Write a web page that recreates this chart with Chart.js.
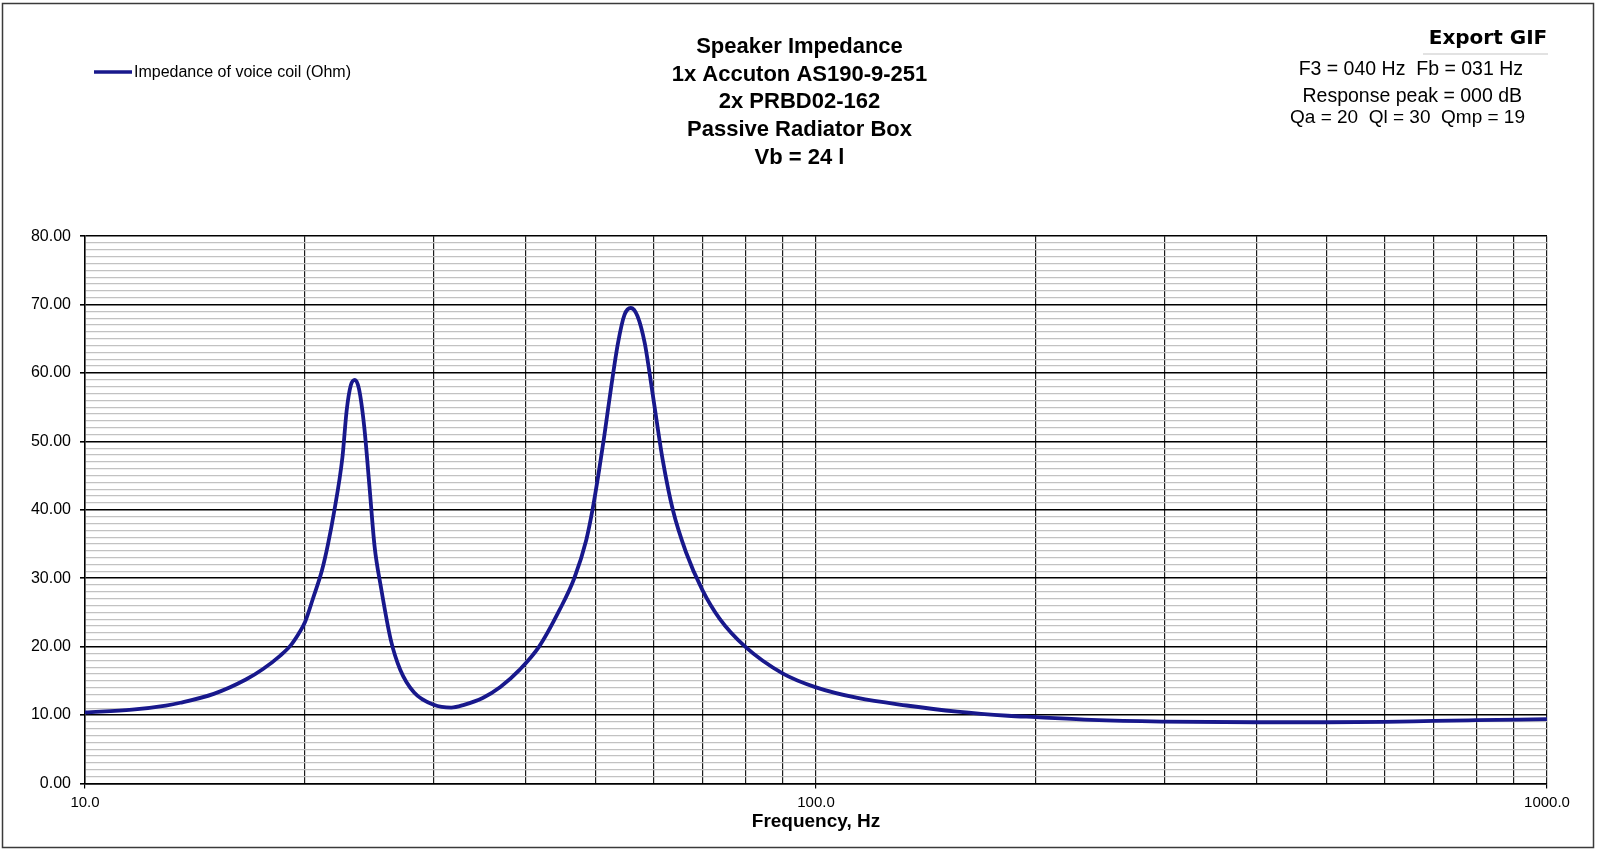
<!DOCTYPE html>
<html lang="en">

<head>
  <meta charset="UTF-8">
  <title>Speaker Impedance</title>
  <script src="https://cdn.jsdelivr.net/npm/chart.js"></script>
  <style>
    body {
      margin: 0;
      background: #ffffff;
    }

    .wrap {
      width: 1599px;
      height: 852px;
      position: relative;
    }
  </style>
</head>

<body>
  <div class="wrap">
    <canvas id="impChart"></canvas>
  </div>

  <script>
    // values
    const freqHz = [10, 11.6, 12.9, 13.5, 15.0, 16.6, 17.5, 18.5, 19.1, 19.6, 20, 20.5, 21.1, 21.5, 21.9, 22.5, 22.8,
      23.1, 23.4, 23.7, 24.1, 24.5, 24.9, 25.4, 26.2, 27, 28.2, 30, 31.7, 33, 35, 37, 39.3, 41.8, 44.6, 46.7, 48.5,
      49.5, 50.5, 51.3, 52.4, 53.6, 54.7, 55.8, 57, 58.3, 59.2, 60.4, 61.7, 63.7, 66.4, 69.9, 73.8, 80, 90, 100, 114,
      133, 156, 183, 200, 238, 297, 400, 500, 600, 700, 800, 1000];
    const impedanceOhm = [10.4, 10.8, 11.4, 11.8, 13.1, 15.2, 16.7, 18.7, 20.15, 21.9, 23.6, 27.0, 31.2, 35.0, 39.5,
      47.7, 54.5, 58.2, 59.0, 57.7, 52.1, 43.4, 34.6, 28.7, 21.0, 16.6, 13.3, 11.5, 11.1, 11.5, 12.5, 14.1, 16.6, 20.0,
      25.4, 30.0, 35.6, 40.2, 45.8, 50.6, 57.6, 64.4, 68.5, 69.5, 68.3, 64.4, 60.0, 53.7, 47.3, 40.0, 33.8, 28.3, 24.1,
      20.0, 16.1, 14.05, 12.5, 11.4, 10.5, 9.9, 9.7, 9.3, 9.05, 8.95, 8.95, 9.0, 9.15, 9.25, 9.4];

    // x grid (log decades) and labelled decades
    const xGridHz = [10, 20, 30, 40, 50, 60, 70, 80, 90, 100, 200, 300, 400, 500, 600, 700, 800, 900, 1000];
    const xLabelHz = [10, 100, 1000];

    const titleLines = ["Speaker Impedance", "1x Accuton AS190-9-251", "2x PRBD02-162", "Passive Radiator Box", "Vb = 24 l"];
    const infoLines = ["F3 = 040 Hz  Fb = 031 Hz", "Response peak = 000 dB", "Qa = 20  Ql = 30  Qmp = 19"];
    const seriesLabel = "Impedance of voice coil (Ohm)";

    const FONT = "'Liberation Sans', Arial, sans-serif";
    const LINE_COLOR = "#18188c";

    const points = freqHz.map((f, i) => ({ x: f, y: impedanceOhm[i] }));

    // frame, legend and the info block in the top right corner
    const decor = {
      id: "decor",
      afterDraw(chart) {
        const ctx = chart.ctx;
        ctx.save();

        ctx.strokeStyle = "#3a3a3a";
        ctx.lineWidth = 1.5;
        ctx.strokeRect(2.5, 3.5, 1591, 844);

        ctx.strokeStyle = LINE_COLOR;
        ctx.lineWidth = 3.5;
        ctx.beginPath();
        ctx.moveTo(94, 72);
        ctx.lineTo(132, 72);
        ctx.stroke();

        ctx.fillStyle = "#000";
        ctx.textBaseline = "middle";
        ctx.textAlign = "left";
        ctx.font = "16px " + FONT;
        ctx.fillText(chart.data.datasets[0].label, 134, 73);

        ctx.font = "bold 20px 'DejaVu Sans', sans-serif";
        ctx.textAlign = "center";
        ctx.fillText("Export GIF", 1488, 39);
        ctx.strokeStyle = "#e2e2e2";
        ctx.lineWidth = 2;
        ctx.beginPath();
        ctx.moveTo(1423, 54);
        ctx.lineTo(1548, 54);
        ctx.stroke();

        ctx.font = "19.5px " + FONT;
        ctx.textAlign = "right";
        ctx.fillText(infoLines[0], 1523, 70);
        ctx.fillText(infoLines[1], 1522, 97);
        ctx.font = "19px " + FONT;
        ctx.fillText(infoLines[2], 1525, 118);

        ctx.restore();
      }
    };

    new Chart(document.getElementById("impChart"), {
      type: "line",
      data: {
        datasets: [{
          label: seriesLabel,
          data: points,
          borderColor: LINE_COLOR,
          backgroundColor: LINE_COLOR,
          borderWidth: 3.8,
          pointRadius: 0,
          fill: false,
          cubicInterpolationMode: "monotone"
        }]
      },
      options: {
        responsive: true,
        maintainAspectRatio: false,
        animation: false,
        devicePixelRatio: 1,
        layout: {
          padding: { left: 0, right: 0, top: 0, bottom: 10 }
        },
        plugins: {
          legend: { display: false },
          tooltip: { enabled: false },
          title: {
            display: true,
            text: titleLines,
            color: "#000",
            font: { family: FONT, size: 22, weight: "bold", lineHeight: 1.265 },
            padding: { top: 32.8, bottom: 64.2 }
          }
        },
        scales: {
          x: {
            type: "logarithmic",
            min: 10,
            max: 1000,
            afterBuildTicks: scale => {
              scale.ticks = xGridHz.map(v => ({ value: v }));
            },
            afterFit: scale => {
              scale.height = 58.5;
            },
            ticks: {
              autoSkip: false,
              maxRotation: 0,
              minRotation: 0,
              padding: 5,
              color: "#000",
              font: { family: FONT, size: 15 },
              callback: v => xLabelHz.includes(v) ? v.toFixed(1) : ""
            },
            grid: {
              color: "#1e1e1e",
              lineWidth: 1.2,
              tickLength: 5,
              tickColor: c => xLabelHz.includes(c.tick.value) ? "#000" : "rgba(0,0,0,0)"
            },
            border: { display: true, color: "#000", width: 1.5 },
            title: {
              display: true,
              text: "Frequency, Hz",
              color: "#000",
              font: { family: FONT, size: 19, weight: "bold" },
              padding: { top: 0, bottom: 8.6 }
            }
          },
          y: {
            min: 0,
            max: 80,
            afterFit: scale => {
              scale.width = 85;
            },
            ticks: {
              stepSize: 1,
              autoSkip: false,
              padding: 9,
              color: "#000",
              font: { family: FONT, size: 16 },
              callback: v => v % 10 === 0 ? v.toFixed(2) : ""
            },
            grid: {
              color: c => c.tick.value % 10 === 0 ? "#000" : "#c2c2c2",
              lineWidth: c => c.tick.value % 10 === 0 ? 1.6 : 1.3,
              tickLength: 5,
              tickColor: c => c.tick.value % 10 === 0 ? "#000" : "rgba(0,0,0,0)"
            },
            border: { display: true, color: "#000", width: 1.5 }
          },
          // empty right-hand axis: only reserves the margin so the title stays centred on the page
          yRight: {
            position: "right",
            min: 0,
            max: 1,
            afterFit: scale => {
              scale.width = 52;
            },
            ticks: { display: false },
            grid: { drawOnChartArea: false, drawTicks: false },
            border: { display: false }
          }
        }
      },
      plugins: [decor]
    });
  </script>
</body>

</html>
